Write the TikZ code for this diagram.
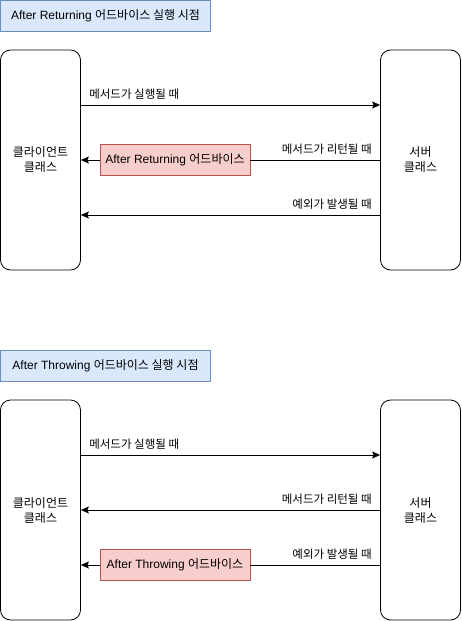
\documentclass[tikz,border=0pt]{standalone}
\usepackage{fontspec}
\setmainfont{Liberation Sans}
\newfontfamily\kr{Noto Sans CJK KR}
\usetikzlibrary{arrows.meta, positioning}
\definecolor{hdrblue}{RGB}{218,232,252}
\definecolor{frblue}{RGB}{108,142,191}
\definecolor{hdrred}{RGB}{248,206,204}
\definecolor{frred}{RGB}{184,84,80}
\tikzset{
  titlebox/.style={rectangle, draw=frblue, fill=hdrblue,
    minimum width=210pt, minimum height=31pt, line width=0.8pt},
  classbox/.style={rectangle, draw=black, fill=white, rounded corners=10pt,
    minimum width=80pt, minimum height=220pt, align=center,
    line width=0.8pt, font=\fontsize{12}{15}\kr},
  advicebox/.style={rectangle, draw=frred, fill=hdrred,
    minimum width=150pt, minimum height=31pt, line width=0.8pt},
  msg/.style={font=\fontsize{11.5}{13}\kr, inner sep=0pt},
  arrow/.style={-{Stealth[length=8pt, width=7pt, inset=1.5pt]}, line width=0.8pt, color=black},
  line/.style={line width=0.8pt, color=black}
}

\begin{document}
\begin{tikzpicture}[x=1pt, y=1pt, font=\fontsize{12}{14}\selectfont]
  \useasboundingbox (0,0) rectangle (461,-621);

  % After Returning
  \node[titlebox] (title1) at (105.5,-16) {After Returning {\kr 어드바이스 실행 시점}};
  \node[classbox] (client1) at (40.5,-160) {클라이언트\\클래스};
  \node[classbox] (server1) at (420.5,-160) {서버\\클래스};
  \node[advicebox] (ret) at (175,-160) {After Returning {\kr 어드바이스}};

  \draw[arrow] ([yshift=55pt]client1.east) -- ([yshift=55pt]server1.west)
    node[msg, pos=0, anchor=south west, xshift=8pt, yshift=5pt] {메서드가 실행될 때};
  \draw[line] (server1.west) -- (ret.east)
    node[msg, pos=0, anchor=south east, xshift=-8pt, yshift=5pt] {메서드가 리턴될 때};
  \draw[arrow] (ret.west) -- (client1.east);
  \draw[arrow] ([yshift=-55pt]server1.west) -- ([yshift=-55pt]client1.east)
    node[msg, pos=0, anchor=south east, xshift=-8pt, yshift=5pt] {예외가 발생될 때};

  % After Throwing
  \node[titlebox] (title2) at (105.5,-366) {After Throwing {\kr 어드바이스 실행 시점}};
  \node[classbox] (client2) at (40.5,-510) {클라이언트\\클래스};
  \node[classbox] (server2) at (420.5,-510) {서버\\클래스};
  \node[advicebox] (thr) at (175,-565) {After Throwing {\kr 어드바이스}};

  \draw[arrow] ([yshift=55pt]client2.east) -- ([yshift=55pt]server2.west)
    node[msg, pos=0, anchor=south west, xshift=8pt, yshift=5pt] {메서드가 실행될 때};
  \draw[arrow] (server2.west) -- (client2.east)
    node[msg, pos=0, anchor=south east, xshift=-8pt, yshift=5pt] {메서드가 리턴될 때};
  \draw[line] ([yshift=-55pt]server2.west) -- (thr.east)
    node[msg, pos=0, anchor=south east, xshift=-8pt, yshift=5pt] {예외가 발생될 때};
  \draw[arrow] (thr.west) -- ([yshift=-55pt]client2.east);
\end{tikzpicture}
\end{document}
